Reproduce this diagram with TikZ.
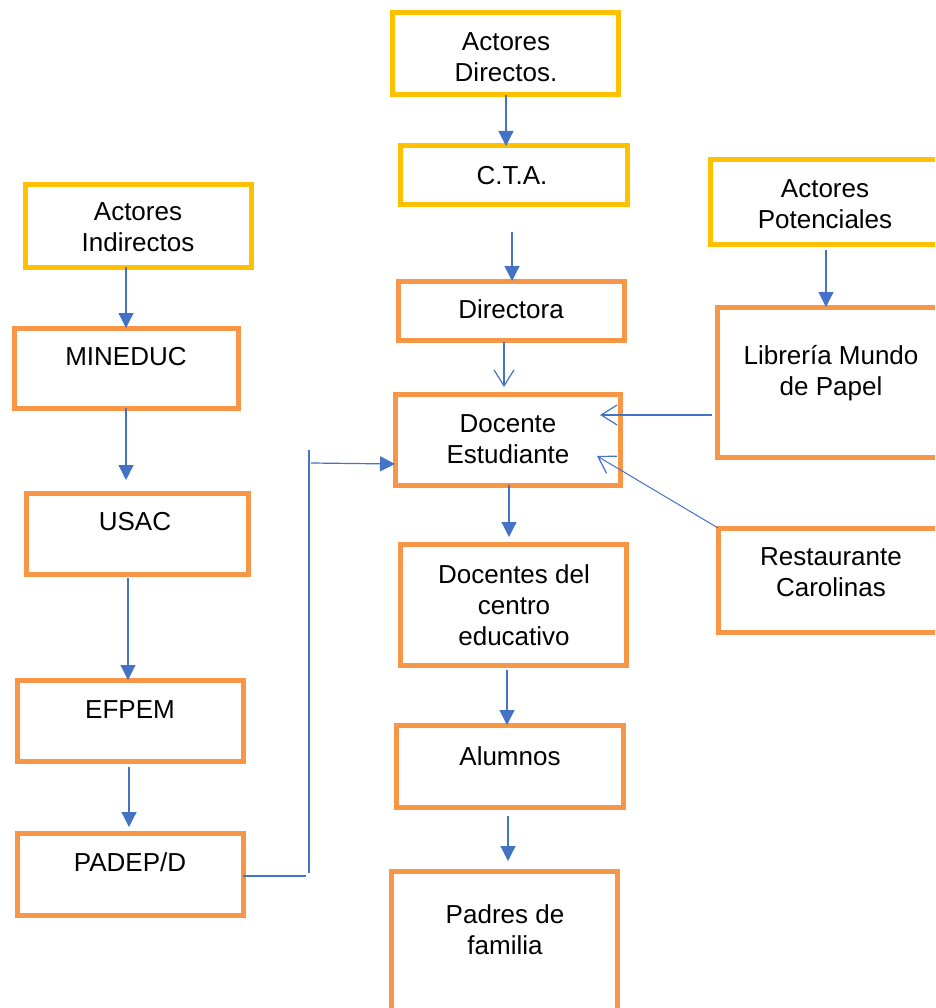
\documentclass[tikz,border=0pt]{standalone}
\usepackage{fontspec}
\setmainfont{Liberation Sans}
\usetikzlibrary{arrows.meta}
\definecolor{boxyellow}{HTML}{FFC000}
\definecolor{boxorange}{HTML}{F79646}
\definecolor{arrblue}{HTML}{4472C4}
\newcommand{\mkbox}[6]{\node[#6, minimum width={(#4)-(#2)}, minimum height={(#5)-(#3)}] (#1) at ({((#2)+(#4))/2},{((#3)+(#5))/2}) {};}
\begin{document}
\begin{tikzpicture}[x=1pt,y=-1pt,
  ybox/.style={draw=boxyellow, line width=5pt, fill=white, inner sep=0pt, outer sep=0pt},
  obox/.style={draw=boxorange, line width=5pt, fill=white, inner sep=0pt, outer sep=0pt},
  lbl/.style={font=\fontsize{26}{31}\selectfont, align=center, inner sep=0pt, anchor=center},
  arr/.style={draw=arrblue, line width=1.2pt, -{Triangle[length=15pt,width=15pt]}},
  openarr/.style={draw=arrblue, line width=1.2pt, -{Straight Barb[length=16pt,width=20pt,line width=1.2pt]}},
  link/.style={draw=arrblue, line width=1.2pt}]
\useasboundingbox (0,0) rectangle (935,1008);
\clip (0,0) rectangle (935,1008);
% boxes
\mkbox{ad}{392}{13}{618}{95}{ybox}
\mkbox{cta}{400}{146}{627}{205}{ybox}
\mkbox{ai}{25}{185}{251}{267}{ybox}
\mkbox{ap}{710}{160}{950}{244}{ybox}
\mkbox{min}{14}{328}{238}{408}{obox}
\mkbox{usac}{26}{493}{248}{574}{obox}
\mkbox{efpem}{17}{680}{243}{761}{obox}
\mkbox{padep}{17}{833}{243}{915}{obox}
\mkbox{dir}{398}{281}{624}{340}{obox}
\mkbox{docest}{395}{394}{620}{485}{obox}
\mkbox{docentes}{400}{544}{626}{665}{obox}
\mkbox{alum}{396}{725}{623}{807}{obox}
\mkbox{padres}{391}{871}{617}{1025}{obox}
\mkbox{lib}{717}{307}{950}{457}{obox}
\mkbox{rest}{718}{528}{950}{632}{obox}
% texts
\node[lbl] (tad) at (506,57) {Actores\\Directos.};
\node[lbl] (tcta) at (512,176) {C.T.A.};
\node[lbl] (tai) at (138,227) {Actores\\Indirectos};
\node[lbl] (tap) at (825,204) {Actores\\Potenciales};
\node[lbl] (tmin) at (126,357) {MINEDUC};
\node[lbl] (tusac) at (135,522) {USAC};
\node[lbl] (tefpem) at (130,710) {EFPEM};
\node[lbl] (tpadep) at (130,862) {PADEP/D};
\node[lbl] (tdir) at (511,309) {Directora};
\node[lbl] (tdocest) at (508,439) {Docente\\Estudiante};
\node[lbl] (tdocentes) at (514,605) {Docentes del\\centro\\educativo};
\node[lbl] (talum) at (510,756) {Alumnos};
\node[lbl] (tpadres) at (505,930) {Padres de\\familia};
\node[lbl] (tlib) at (831,373) {Librería Mundo\\de Papel};
\node[lbl] (trest) at (831,572) {Restaurante\\Carolinas};
% coordinates
\coordinate (vtop) at (309,450);
\coordinate (vbot) at (309,873);
\coordinate (hend) at (306,876);
\coordinate (hstart) at (311,463);
\coordinate (tiplib) at (600,415);
\coordinate (tiprest) at (597,456);
% connectors
\draw[arr] (ad.south -| 506,0) -- (cta.north -| 506,0);
\draw[arr, shorten <=27pt] (cta.south -| 512,0) -- (dir.north -| 512,0);
\draw[openarr, shorten <=2pt, shorten >=7pt] (dir.south -| 504,0) -- (docest.north -| 504,0);
\draw[arr] (docest.south -| 509,0) -- ([yshift=7pt]docentes.north -| 509,0);
\draw[arr, shorten <=5pt] (docentes.south -| 507,0) -- (alum.north -| 507,0);
\draw[arr, shorten <=9pt, shorten >=10pt] (alum.south -| 508,0) -- (padres.north -| 508,0);
\draw[arr] (min.north |- ai.south) -- (min.north);
\draw[arr, shorten >=13pt] (min.south) -- (min.south |- usac.north);
\draw[arr, shorten <=4pt] (usac.south -| 128,0) -- (efpem.north -| 128,0);
\draw[arr, shorten <=6pt, shorten >=6pt] (efpem.south -| 129,0) -- (padep.north -| 129,0);
\draw[arr, shorten <=6pt] (ap.south -| 826,0) -- (lib.north -| 826,0);
\draw[link] (padep.east |- hend) -- (hend);
\draw[link] (vtop) -- (vbot);
\draw[arr] (hstart) -- ([yshift=-1pt]hstart -| docest.west);
\draw[openarr] ([xshift=-5pt]lib.west |- tiplib) -- (tiplib);
\draw[openarr, line width=1pt] (rest.north west) -- (tiprest);
\end{tikzpicture}
\end{document}
